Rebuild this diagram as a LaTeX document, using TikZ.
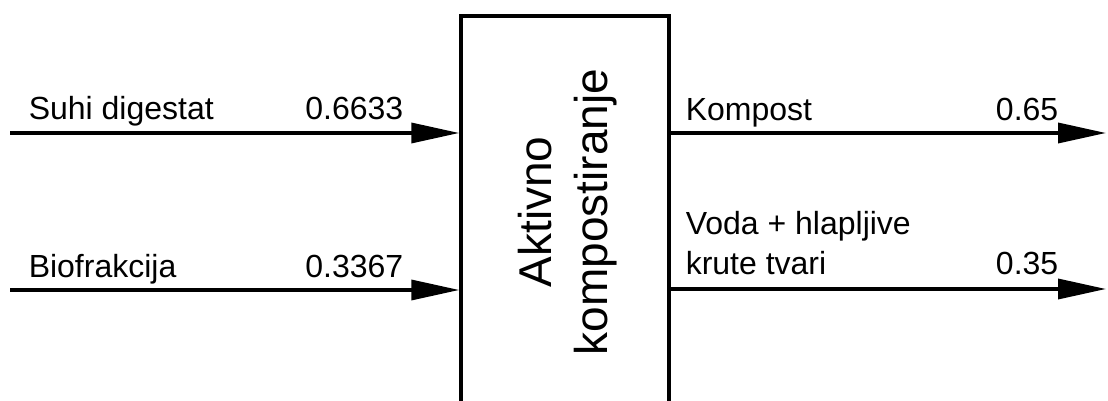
\documentclass[tikz,border=0pt]{standalone}
\usepackage{fontspec}
\setmainfont{Liberation Sans}
\usetikzlibrary{arrows.meta,positioning}
\begin{document}
\begin{tikzpicture}[
	x = 1pt, y = 1pt, % one pixel per unit
	> = {Triangle[length=48pt,width=20pt]}, % arrow head style
	line width = 3.5pt, % line style
	font=\fontsize{32}{40}\selectfont
	]
	
	\tikzset{
	flowlabel/.style = {inner sep=0pt},
	process/.style = {draw, inner sep=0pt, minimum width=208pt, minimum height=410pt}
	}
	
	\clip (0,0) rectangle (1108,401);
	
	\node[process] (proc) at (565,180) {};
	\node[rotate=90, align=center, font=\fontsize{46}{56}\selectfont] (procT) at (568,189) {Aktivno\\kompostiranje};
	
	\coordinate (in1) at (10,268);
	\coordinate (in2) at (10,111);
	\coordinate (out1) at (1106,268);
	\coordinate (out2) at (1106,112);
	
	\node[flowlabel, anchor=base west] (lSuhi) at (27,281) {Suhi digestat};
	\node[flowlabel, anchor=base east] (vSuhi) at (405,281) {0.6633};
	\node[flowlabel, anchor=base west] (lBio) at (27,123) {Biofrakcija};
	\node[flowlabel, anchor=base east] (vBio) at (405,123) {0.3367};
	\node[flowlabel, anchor=base west] (lKomp) at (684,280) {Kompost};
	\node[flowlabel, anchor=base east] (vKomp) at (1060,280) {0.65};
	\node[flowlabel, anchor=base west, align=left] (lVoda) at (684,126) {Voda + hlapljive\\krute tvari}; % base = last line
	\node[flowlabel, anchor=base east] (vVoda) at (1060,126) {0.35};
	
	\draw[->] (in1) -- (in1 -| proc.west);
	\draw[->] (in2) -- (in2 -| proc.west);
	\draw[->] (out1 -| proc.east) -- (out1);
	\draw[->] (out2 -| proc.east) -- (out2);
	
\end{tikzpicture}
\end{document}
